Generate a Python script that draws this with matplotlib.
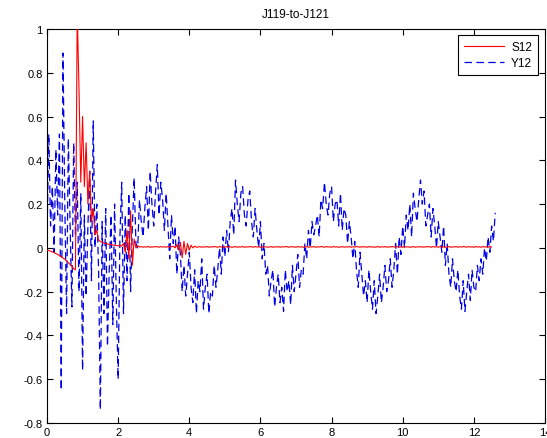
import numpy as np
import matplotlib
matplotlib.use("Agg")
import matplotlib.pyplot as plt

title = "J119-to-J121"
series_names = ["S12", "Y12"]
dt = 0.05  # sampling step of both series

# S12 (red, solid)
s12 = [
    -0.01, -0.012, -0.015, -0.018, -0.022, -0.026, -0.03, -0.035, -0.04, -0.046,
    -0.052, -0.06, -0.068, -0.076, -0.085, -0.095, -0.1,
    1.08, 0.72, 0.3, 0.6, 0.28, 0.48, 0.2, 0.35, 0.12, 0.18, 0.06, 0.08, 0.035, 0.03,
    0.025, 0.022, 0.02, 0.018, 0.016, 0.015, 0.013, 0.012, 0.01, 0.01,
    0.012, 0.008, 0.02, -0.02, 0.08, -0.05, 0.17, -0.08, 0.04, 0.0,
    0.01, 0.004, 0.006, 0.003, 0.005, 0.004, 0.006, 0.003, 0.005, 0.004,
    0.006, 0.005, 0.003, 0.006, 0.004, 0.005, 0.003, 0.006, 0.004, 0.005, 0.008, 0.0,
    0.015, -0.01, 0.025, -0.045, 0.03, -0.03, 0.02, -0.01, 0.012, 0.0, 0.008, 0.003,
    0.004, 0.006, 0.003, 0.005, 0.004, 0.006, 0.003, 0.005, 0.004, 0.006,
    0.005, 0.003, 0.006, 0.004, 0.005, 0.003, 0.006, 0.004, 0.005, 0.003,
    0.004, 0.006, 0.003, 0.005, 0.004, 0.006, 0.003, 0.005, 0.004, 0.006,
    0.005, 0.003, 0.006, 0.004, 0.005, 0.003, 0.006, 0.004, 0.005, 0.003,
    0.004, 0.006, 0.003, 0.005, 0.004, 0.006, 0.003, 0.005, 0.004, 0.006,
    0.005, 0.003, 0.006, 0.004, 0.005, 0.003, 0.006, 0.004, 0.005, 0.003,
    0.004, 0.006, 0.003, 0.005, 0.004, 0.006, 0.003, 0.005, 0.004, 0.006,
    0.005, 0.003, 0.006, 0.004, 0.005, 0.003, 0.006, 0.004, 0.005, 0.003,
    0.004, 0.006, 0.003, 0.005, 0.004, 0.006, 0.003, 0.005, 0.004, 0.006,
    0.005, 0.003, 0.006, 0.004, 0.005, 0.003, 0.006, 0.004, 0.005, 0.003,
    0.004, 0.006, 0.003, 0.005, 0.004, 0.006, 0.003, 0.005, 0.004, 0.006,
    0.005, 0.003, 0.006, 0.004, 0.005, 0.003, 0.006, 0.004, 0.005, 0.003,
    0.004, 0.006, 0.003, 0.005, 0.004, 0.006, 0.003, 0.005, 0.004, 0.006,
    0.005, 0.003, 0.006, 0.004, 0.005, 0.003, 0.006, 0.004, 0.005, 0.003,
    0.004, 0.006, 0.003, 0.005, 0.004, 0.006, 0.003, 0.005, 0.004, 0.006,
    0.005, 0.003, 0.006, 0.004, 0.005, 0.003, 0.006, 0.004,
    0.005, 0.003, 0.006, 0.004, 0.005, 0.003, 0.006, 0.004,
]

# Y12 (blue, dashed)
y12 = [
    0.05, 0.52, 0.10, 0.28, -0.02, 0.45, 0.15, 0.52, -0.65, 0.89,
    0.20, -0.30, 0.50, 0.10, -0.27, 0.48, 0.05, 0.30, -0.20, 0.25,
    -0.56, 0.15, -0.22, 0.10, 0.35, -0.15, 0.58, 0.00, 0.20, -0.10,
    -0.74, 0.12, -0.30, 0.18, -0.45, -0.10, 0.15, -0.35, 0.20, -0.25,
    -0.60, 0.05, 0.30, -0.30, 0.15, -0.15, 0.25, -0.20, 0.10, 0.32, 0.02,
    0.00, 0.22, 0.12, 0.05, 0.18, 0.28, 0.08, 0.35, 0.20, 0.10,
    0.25, 0.38, 0.15, 0.30, 0.22, 0.08, 0.25, 0.10, -0.05, 0.15,
    0.02, 0.10, -0.12, 0.05, -0.03, -0.20, -0.08, -0.22, -0.12, -0.02,
    -0.18, -0.25, -0.10, -0.30, -0.15, -0.20, -0.05, -0.28, -0.18, -0.12,
    -0.30, -0.20, -0.22, -0.08, -0.18, -0.10, 0.00, -0.12, 0.05, -0.04,
    0.08, -0.02, 0.12, 0.18, 0.06, 0.31, 0.20, 0.12, 0.25, 0.28,
    0.15, 0.10, 0.22, 0.26, 0.12, 0.05, 0.18, 0.08, 0.00, 0.12,
    -0.05, 0.02, -0.12, -0.08, -0.22, -0.15, -0.10, -0.27, -0.18, -0.12,
    -0.25, -0.18, -0.29, -0.10, -0.20, -0.15, -0.26, -0.08, -0.20, -0.12,
    -0.03, -0.18, -0.10, -0.12, 0.02, -0.05, 0.08, 0.00, 0.12, 0.06,
    0.10, 0.15, 0.05, 0.22, 0.18, 0.30, 0.20, 0.15, 0.25, 0.28,
    0.12, 0.20, 0.22, 0.10, 0.25, 0.08, 0.18, 0.15, 0.02, 0.12,
    0.05, -0.05, 0.03, -0.10, -0.18, -0.02, -0.12, -0.22, -0.15, -0.25,
    -0.10, -0.20, -0.28, -0.15, -0.30, -0.22, -0.12, -0.25, -0.18, -0.08,
    -0.20, -0.15, -0.05, -0.18, -0.10, 0.02, -0.12, 0.05, -0.03, 0.10,
    0.00, 0.15, 0.08, 0.20, 0.05, 0.25, 0.18, 0.12, 0.22, 0.31,
    0.20, 0.26, 0.10, 0.15, 0.20, 0.05, 0.18, 0.10, 0.00, 0.12,
    0.05, -0.02, 0.10, -0.08, 0.02, -0.12, -0.18, -0.05, -0.15, -0.20,
    -0.10, -0.22, -0.28, -0.15, -0.29, -0.20, -0.12, -0.24, -0.10, -0.18,
    -0.20, -0.08, -0.15, -0.05, -0.12, 0.00, -0.06, 0.05, -0.02, 0.10, 0.03, 0.16,
]

x_ticks = [0, 2, 4, 6, 8, 10, 12, 14]
y_ticks = [-0.8, -0.6, -0.4, -0.2, 0, 0.2, 0.4, 0.6, 0.8, 1]
x_lim = (0, 14)
y_lim = (-0.8, 1)

plt.rcParams['font.family'] = ['Liberation Sans', 'DejaVu Sans']
fig = plt.figure(figsize=(5.47, 4.39), dpi=100)
ax = fig.add_axes([47 / 547, 1 - 424 / 439, (545 - 47) / 547, (424 - 30) / 439])

t_s = np.arange(len(s12)) * dt
t_y = np.arange(len(y12)) * dt
ax.plot(t_s, s12, color=(1, 0, 0), lw=0.8, label=series_names[0], zorder=3)
ax.plot(t_y, y12, color=(0, 0, 0.9), lw=0.9, ls=(0, (6, 3.5)), label=series_names[1], zorder=2)

ax.set_xlim(*x_lim)
ax.set_ylim(*y_lim)
ax.set_xticks(x_ticks)
ax.set_yticks(y_ticks)
ax.set_xticklabels([f"{v:g}" for v in x_ticks])
ax.set_yticklabels([f"{v:g}" for v in y_ticks])
ax.tick_params(direction='in', length=4, width=0.8, top=True, right=True,
               labelsize=8, pad=3)
for sp in ax.spines.values():
    sp.set_linewidth(0.8)
ax.set_title(title, fontsize=8.5, pad=9)

leg = ax.legend(loc='upper right', fontsize=8.5, frameon=True, fancybox=False,
                edgecolor='black', framealpha=1, handlelength=3.4,
                borderpad=0.5, labelspacing=0.35, handletextpad=0.6,
                borderaxespad=0, bbox_to_anchor=(0.986, 0.985))
leg.get_frame().set_linewidth(0.8)

fig.savefig("out.png", dpi=100)
